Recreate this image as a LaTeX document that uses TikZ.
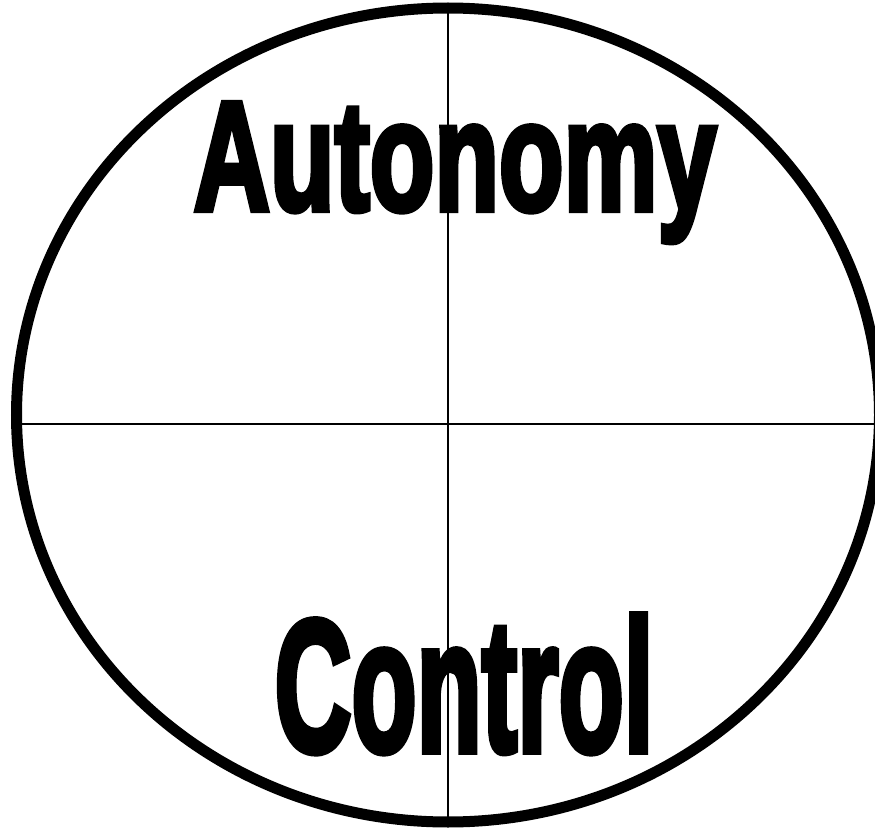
\documentclass[tikz,border=0pt]{standalone}
\usepackage{fontspec}
\usepackage{graphicx}
\newfontfamily\heavyfont[FakeBold=4]{Liberation Sans Bold}
\usepackage{tikz}
\usetikzlibrary{positioning}

\tikzset{
  rim/.style={line width=8.25pt},
  cross/.style={line width=1.9pt},
  bigword/.style={anchor=base,inner sep=0pt,font=\heavyfont}
}

\begin{document}
\begin{tikzpicture}[x=0.75pt,y=-0.75pt]
  \useasboundingbox (0,0) rectangle (875,831);
  \coordinate (top) at (448,8);
  \coordinate (bottom) at (448,822);
  \coordinate (left) at (17,424);
  \coordinate (right) at (879,424);
  % cross
  \draw[cross] (top)--(bottom);
  \draw[cross] (left)--(right);
  % rim
  \draw[rim] (448,415) ellipse [x radius=431.5,y radius=407];
  % words
  \node[bigword] (autonomy) at (455,210) {\resizebox{392pt}{80.25pt}{Autonomy}};
  \node[bigword] (control) at (464,751) {\resizebox{284pt}{102pt}{Control}};
\end{tikzpicture}
\end{document}
